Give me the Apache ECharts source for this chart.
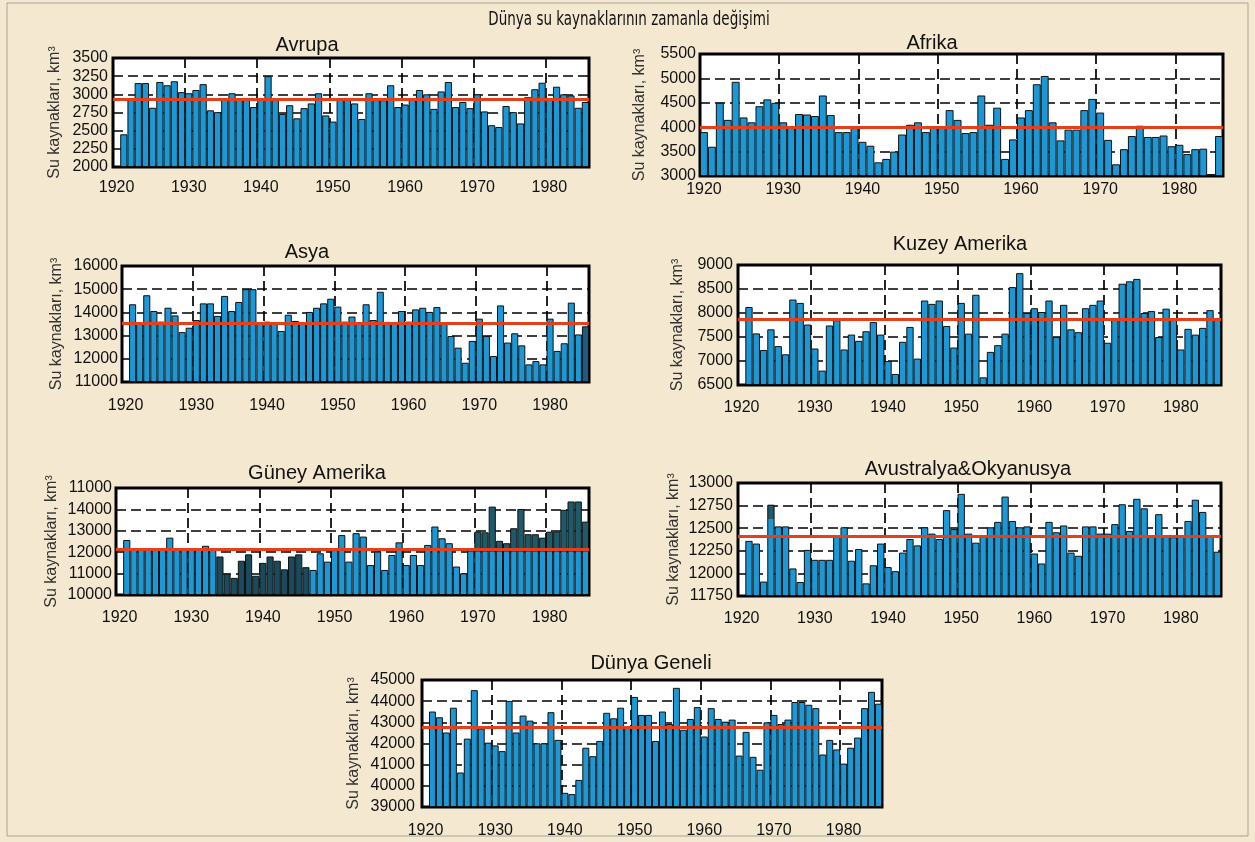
<!DOCTYPE html>
<html>
<head>
<meta charset="utf-8">
<script src="https://cdn.jsdelivr.net/npm/echarts@6/dist/echarts.min.js"></script>
<style>
  html, body { margin: 0; padding: 0; background: #f5e8d0; }
  #chart { width: 1255px; height: 842px; }
</style>
</head>
<body>
<div id="chart"></div>
<script>
// Annual river runoff (water resources) by continent, km³ per year
const firstYear = 1920;
const lastYear = 1985;
const labelEvery = 10;

const avrupaStart = 1921;
const avrupa = [2450, 2945, 3155, 3155, 2815, 3170, 3125, 3180, 3030, 3015,
  3060, 3140, 2780, 2755, 2950, 3015, 2945, 2950, 2825, 2945,
  3250, 2945, 2730, 2850, 2670, 2810, 2875, 3015, 2710, 2625,
  2945, 2950, 2875, 2660, 3015, 2935, 2920, 3125, 2825, 2860,
  2935, 3060, 3000, 2800, 3040, 3170, 2825, 2895, 2810, 3000,
  2765, 2575, 2550, 2840, 2755, 2600, 2960, 3070, 3160, 2930,
  3105, 3000, 2985, 2815, 2895];
const avrupaMean = 2935;
const avrupaTicks = [2000, 2250, 2500, 2750, 3000, 3250, 3500];

const afrikaStart = 1920;
const afrika = [3900, 3600, 4500, 4150, 4930, 4200, 4100, 4430, 4570, 4500,
  4100, 4000, 4270, 4260, 4230, 4650, 4250, 3900, 3900, 4000,
  3700, 3620, 3280, 3350, 3500, 3850, 4050, 4100, 3900, 4000,
  4000, 4350, 4150, 3880, 3900, 4650, 4050, 4400, 3350, 3750,
  4200, 4350, 4880, 5050, 4100, 3730, 3950, 3950, 4350, 4580,
  4300, 3740, 3240, 3550, 3820, 4030, 3800, 3800, 3830, 3610,
  3640, 3450, 3550, 3560, 3040, 3820];
const afrikaMean = 4000;
const afrikaTicks = [3000, 3500, 4000, 4500, 5000, 5500];

const asyaStart = 1921;
const asya = [14350, 13580, 14740, 14060, 13600, 14200, 13870, 13150, 13340, 13670,
  14390, 14390, 13850, 14710, 14060, 14450, 15000, 15000, 13580, 13600,
  13570, 13200, 13900, 13630, 13580, 14020, 14200, 14390, 14590, 14250,
  13600, 13820, 13570, 14350, 13670, 14890, 13590, 13570, 14060, 13600,
  14130, 14200, 14020, 14230, 13580, 12980, 12480, 11830, 12770, 13730,
  12980, 12120, 14300, 12700, 13100, 12580, 11760, 11900, 11760, 13730,
  12340, 12670, 14420, 13050, 13400];
const asyaMean = 13530;
const asyaTicks = [11000, 12000, 13000, 14000, 15000, 16000];

const kuzeyStart = 1921;
const kuzeyAmerika = [8125, 7575, 7230, 7660, 7310, 7140, 8280, 8210, 7760, 7260,
  6800, 7740, 7850, 7240, 7550, 7420, 7620, 7810, 7550, 7000,
  6730, 7400, 7710, 7050, 8260, 8190, 8260, 7730, 7280, 8210,
  7570, 8380, 6660, 7190, 7330, 7570, 8540, 8830, 8000, 8100,
  8020, 8260, 7500, 8170, 7660, 7600, 8100, 8170, 8260, 7380,
  7880, 8610, 8660, 8710, 8000, 8040, 7500, 8090, 7880, 7240,
  7670, 7550, 7690, 8060, 7880];
const kuzeyMean = 7880;
const kuzeyTicks = [6500, 7000, 7500, 8000, 8500, 9000];

const guneyStart = 1921;
const guneyAmerika = [12570, 12130, 12130, 12120, 12130, 12130, 12680, 12130, 12120, 12130,
  12130, 12300, 12130, 11800, 11000, 10800, 11600, 11900, 10900, 11500,
  11800, 11600, 11200, 11800, 11900, 11300, 11170, 11950, 11560, 12100,
  12800, 11560, 12890, 12730, 11400, 12030, 11170, 11870, 12460, 11400,
  11870, 11400, 12340, 13200, 12650, 12420, 11330, 11010, 12100, 12960,
  12930, 14130, 12530, 12420, 13120, 14020, 12840, 12840, 12680, 12960,
  12960, 13980, 14370, 14370, 13430];
const guneyMean = 12150;
const guneyTicks = [10000, 11000, 12000, 13000, 14000, 15000];
const guneyTickText = ['10000', '11000', '12000', '13000', '14000', '11000'];

const avustralyaStart = 1921;
const avustralya = [12360, 12330, 11910, 12760, 12520, 12520, 12055, 11905, 12260, 12150,
  12150, 12150, 12410, 12510, 12140, 12270, 11890, 12090, 12330, 12070,
  12025, 12230, 12380, 12310, 12510, 12440, 12380, 12700, 12490, 12880,
  12440, 12340, 12410, 12510, 12570, 12850, 12580, 12510, 12520, 12220,
  12110, 12570, 12455, 12530, 12230, 12195, 12520, 12520, 12440, 12440,
  12545, 12765, 12470, 12825, 12720, 12425, 12655, 12410, 12400, 12410,
  12580, 12815, 12680, 12410, 12240];
const avustralyaMean = 12415;
const avustralyaTicks = [11750, 12000, 12250, 12500, 12750, 13000];

const dunyaStart = 1921;
const dunya = [43510, 43240, 42520, 43690, 40630, 42230, 44520, 42710, 42040, 41910,
  41640, 44010, 42520, 43320, 43080, 42010, 42010, 43480, 42170, 39670,
  39610, 40280, 41800, 41400, 42120, 43450, 43190, 43690, 42760, 44200,
  43350, 43350, 42120, 43510, 42920, 44630, 42650, 43160, 43720, 42330,
  43670, 43160, 43030, 43130, 41430, 42550, 41370, 40760, 43000, 43350,
  42920, 43130, 43960, 43960, 43830, 43670, 41480, 42170, 41720, 41050,
  41800, 42280, 43670, 44440, 43880];
const dunyaMean = 42760;
const dunyaTicks = [39000, 40000, 41000, 42000, 43000, 44000, 45000];

const mainTitle = 'Dünya su kaynaklarının zamanla değişimi';
const axisName = 'Su kaynakları, km³';

// ---- styling ----
const BAR = '#1b98d5';
const DARK = '#1a4a5c';
const TEAL = '#1f5a68';
const MEAN = '#e5401c';
const FONT = "'Liberation Sans', Arial, sans-serif";
const GRID_DASH = { color: '#000', width: 1.7, type: [10, 5] };

const years = [];
for (let y = firstYear; y <= lastYear; y++) years.push(String(y));

// special colouring of a few bars (print tones of the source plate)
function barColor(name, year, v, min) {
  if (name === 'Güney Amerika') {
    if (year >= 1934 && year <= 1946) return DARK;
    if (year >= 1969 && v > 12000) return split(v, 12000, min, TEAL);
  }
  if (name === 'Asya' && year === 1985) return '#1d5a85';
  if (name === 'Avustralya&Okyanusya' && year === 1924) return split(v, 12600, min, TEAL);
  return null;
}
function split(v, at, min, top) {
  const f = (v - at) / (v - min);
  return { type: 'linear', x: 0, y: 0, x2: 0, y2: 1, colorStops: [
    { offset: 0, color: top }, { offset: f, color: top },
    { offset: f, color: BAR }, { offset: 1, color: BAR } ] };
}

const panels = [
  { name: 'Avrupa', values: avrupa, start: avrupaStart, mean: avrupaMean, ticks: avrupaTicks,
    box: { left: 113, top: 58, width: 476, height: 109 }, title: [307, 45], nameGap: 50, xMargin: 13, yMargin: 5 },
  { name: 'Afrika', values: afrika, start: afrikaStart, mean: afrikaMean, ticks: afrikaTicks,
    box: { left: 700, top: 54, width: 523, height: 122 }, title: [932, 43], nameGap: 52, xMargin: 6, yMargin: 4 },
  { name: 'Asya', values: asya, start: asyaStart, mean: asyaMean, ticks: asyaTicks,
    box: { left: 122, top: 266, width: 467, height: 116 }, title: [307, 252], nameGap: 57, xMargin: 16, yMargin: 4 },
  { name: 'Kuzey Amerika', values: kuzeyAmerika, start: kuzeyStart, mean: kuzeyMean, ticks: kuzeyTicks,
    box: { left: 738, top: 265, width: 483, height: 120 }, title: [960, 244], nameGap: 52, xMargin: 15, yMargin: 5 },
  { name: 'Güney Amerika', values: guneyAmerika, start: guneyStart, mean: guneyMean, ticks: guneyTicks, tickText: guneyTickText,
    box: { left: 116, top: 488, width: 473, height: 107 }, title: [317, 473], nameGap: 56, xMargin: 15, yMargin: 4 },
  { name: 'Avustralya&Okyanusya', values: avustralya, start: avustralyaStart, mean: avustralyaMean, ticks: avustralyaTicks,
    box: { left: 738, top: 483, width: 483, height: 113 }, title: [968, 469], nameGap: 56, xMargin: 15, yMargin: 5 },
  { name: 'Dünya Geneli', values: dunya, start: dunyaStart, mean: dunyaMean, ticks: dunyaTicks,
    box: { left: 422, top: 680, width: 460, height: 127 }, title: [651, 663], nameGap: 60, xMargin: 16, yMargin: 7 }
];

const option = {
  backgroundColor: '#f5e8d0',
  animation: false,
  grid: [], xAxis: [], yAxis: [], series: [],
  graphic: [
    { type: 'rect', shape: { x: 7, y: 3, width: 1241, height: 833 },
      style: { fill: 'none', stroke: '#a8a298', lineWidth: 1 }, silent: true },
    // narrow headline, squeezed horizontally
    { type: 'text', x: 629, y: 20, scaleX: 0.75,
      style: { text: mainTitle, fill: '#111', font: "20px 'DejaVu Sans Condensed', 'DejaVu Sans', sans-serif",
               align: 'center', verticalAlign: 'middle' } }
  ]
};

panels.forEach((p, i) => {
  const min = p.ticks[0];
  const max = p.ticks[p.ticks.length - 1];
  const step = p.ticks[1] - p.ticks[0];
  const text = p.tickText || p.ticks.map(String);

  const data = years.map(() => null);
  p.values.forEach((v, k) => {
    const year = p.start + k;
    const c = barColor(p.name, year, v, min);
    data[year - firstYear] = c ? { value: v, itemStyle: { color: c } } : v;
  });

  option.grid.push(Object.assign({ show: true, backgroundColor: '#ffffff', borderColor: '#000', borderWidth: 3 }, p.box));

  option.xAxis.push({
    gridIndex: i, type: 'category', data: years, boundaryGap: true,
    axisLine: { show: false }, axisTick: { show: false },
    axisLabel: { interval: labelEvery - 1, fontSize: 16, color: '#111', fontFamily: FONT, margin: p.xMargin },
    splitLine: { show: true, interval: labelEvery - 1, lineStyle: GRID_DASH }
  });

  option.yAxis.push({
    gridIndex: i, type: 'value', min: min, max: max, interval: step, startValue: min,
    axisLine: { show: false }, axisTick: { show: false },
    axisLabel: { fontSize: 16, color: '#111', fontFamily: FONT, margin: p.yMargin,
      formatter: v => text[Math.round((v - min) / step)] },
    splitLine: { show: true, lineStyle: GRID_DASH },
    name: axisName, nameLocation: 'middle', nameGap: p.nameGap,
    nameTextStyle: { fontSize: 16, color: '#333', fontFamily: FONT }
  });

  option.series.push({
    type: 'bar', name: p.name, xAxisIndex: i, yAxisIndex: i, data: data,
    barWidth: '100%', barGap: '0%',
    itemStyle: { color: BAR, borderColor: '#111', borderWidth: 1 },
    markLine: { silent: true, symbol: 'none', label: { show: false },
      lineStyle: { color: MEAN, width: 3, type: 'solid' }, data: [{ yAxis: p.mean }] }
  });

  option.graphic.push({ type: 'text', x: p.title[0], y: p.title[1],
    style: { text: p.name, fill: '#111', font: "20px 'Liberation Sans', Arial, sans-serif",
             align: 'center', verticalAlign: 'middle' } });
});

const chart = echarts.init(document.getElementById('chart'), null, { renderer: 'canvas' });
chart.setOption(option);
</script>
</body>
</html>
